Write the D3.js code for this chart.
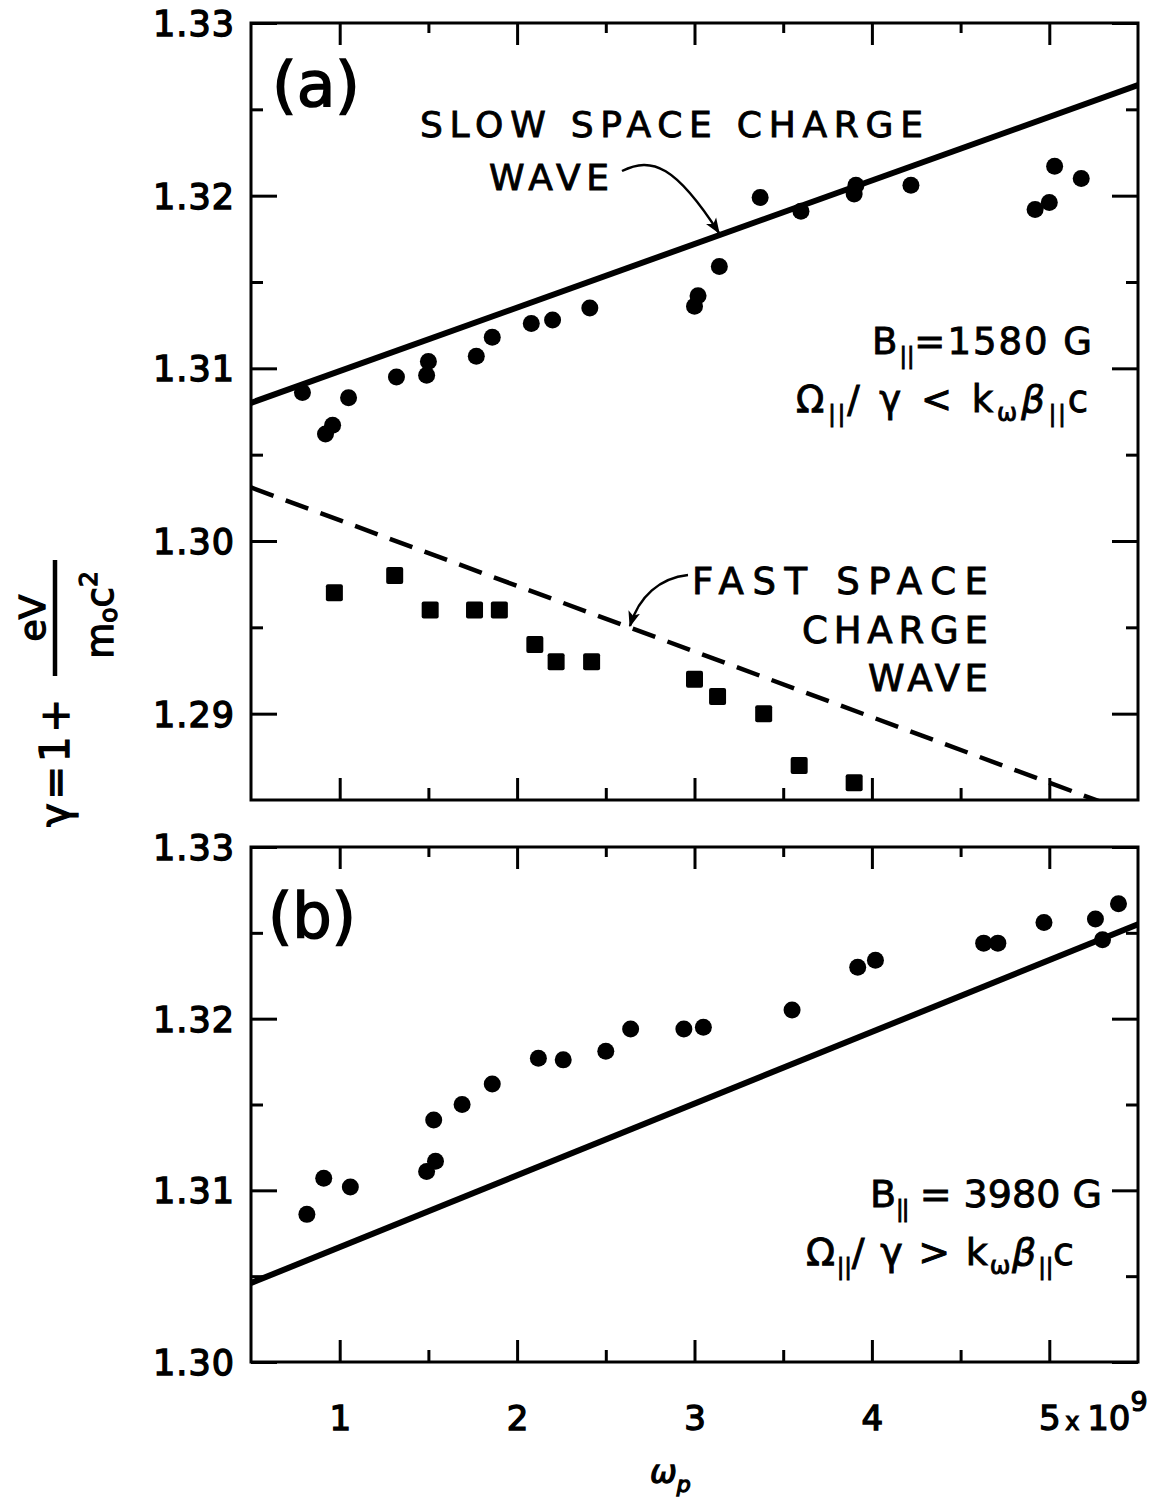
<!DOCTYPE html>
<html>
<head>
<meta charset="utf-8">
<script src="https://cdn.jsdelivr.net/npm/d3@7"></script>
<style>
  body { margin: 0; background: #fff; }
  text { font-family: "DejaVu Sans", sans-serif; fill: #000; }
</style>
</head>
<body>
<svg id="chart" width="1155" height="1499"></svg>
<script>
// panel (a): slow space charge wave, measured points (circles)
var slowX = [0.79, 0.92, 0.96, 1.05, 1.32, 1.49, 1.50, 1.77, 1.86, 2.08, 2.20, 2.41,
             3.00, 3.02, 3.14, 3.37, 3.60, 3.90, 3.91, 4.22, 4.92, 5.00, 5.03, 5.18];
var slowY = [1.3086, 1.3062, 1.3067, 1.3083, 1.3095, 1.3096, 1.3104, 1.3107, 1.3118, 1.3126, 1.3128, 1.3135,
             1.3136, 1.3142, 1.3159, 1.3199, 1.3191, 1.3201, 1.3206, 1.3206, 1.3192, 1.3196, 1.3217, 1.3210];

// panel (a): fast space charge wave, measured points (squares)
var fastX = [0.97, 1.31, 1.51, 1.76, 1.90, 2.10, 2.22, 2.42, 3.00, 3.13, 3.39, 3.59, 3.90];
var fastY = [1.297, 1.298, 1.296, 1.296, 1.296, 1.294, 1.293, 1.293, 1.292, 1.291, 1.290, 1.287, 1.286];

// panel (a): theory lines (end points)
var slowLineX = [0.5, 5.5];
var slowLineY = [1.3080, 1.3264];
var fastLineX = [0.5, 5.5];
var fastLineY = [1.3031, 1.2841];

// panel (b): measured points
var bX = [0.815, 0.91, 1.06, 1.49, 1.54, 1.53, 1.69, 1.86, 2.12, 2.26, 2.50, 2.64,
          2.94, 3.05, 3.55, 3.92, 4.02, 4.63, 4.71, 4.97, 5.26, 5.30, 5.39];
var bY = [1.3086, 1.3107, 1.3102, 1.3111, 1.3117, 1.3141, 1.3150, 1.3162, 1.3177, 1.3176, 1.3181, 1.3194,
          1.3194, 1.3195, 1.3205, 1.3230, 1.3234, 1.3244, 1.3244, 1.3256, 1.3258, 1.3246, 1.3267];

// panel (b): theory line
var bLineX = [0.5, 5.5];
var bLineY = [1.3046, 1.3255];

// ticks
var xLabelTicks = [1, 2, 3, 4, 5];
var xMajor = [1, 2, 3, 4, 5];
var xMinor = [1.5, 2.5, 3.5, 4.5];
var yTicksA = [1.29, 1.30, 1.31, 1.32, 1.33];
var yMinorA = [1.295, 1.305, 1.315, 1.325];
var yTicksB = [1.30, 1.31, 1.32, 1.33];
var yMinorB = [1.305, 1.315, 1.325];

var svg = d3.select('#chart');

var x = d3.scaleLinear().domain([0.5, 5.5]).range([251, 1138]);
var yA = d3.scaleLinear().domain([1.285, 1.33]).range([800, 23]);
var yB = d3.scaleLinear().domain([1.30, 1.33]).range([1362, 847]);

var defs = svg.append('defs');
defs.append('marker').attr('id', 'arrow')
    .attr('viewBox', '0 0 12 10').attr('refX', 11).attr('refY', 5)
    .attr('markerWidth', 16).attr('markerHeight', 14)
    .attr('markerUnits', 'userSpaceOnUse').attr('orient', 'auto')
  .append('path').attr('d', 'M0,0.5 L12,5 L0,9.5 L3,5 z').attr('fill', '#000');

function cleanAxis(g) {
    g.select('.domain').remove();
    g.selectAll('.tick line').attr('stroke', '#000').attr('stroke-width', 3);
}

// lettering helper: DejaVu with a thin outline to get the heavy pen look
function letter(sel, size, w) {
    return sel.attr('font-size', size).attr('stroke', '#000').attr('stroke-width', w || 0.9);
}

function drawFrame(id, y, yTicks, yMinor) {
    var g = svg.append('g').attr('id', id);
    var top = y.range()[1], bottom = y.range()[0];
    var left = x.range()[0], right = x.range()[1];

    g.append('clipPath').attr('id', 'clip-' + id)
     .append('rect').attr('x', left).attr('y', top)
     .attr('width', right - left).attr('height', bottom - top);

    // x ticks, inward on bottom and top
    g.append('g').attr('transform', 'translate(0,' + bottom + ')')
     .call(d3.axisBottom(x).tickValues(xMajor).tickSize(-22).tickFormat('')).call(cleanAxis);
    g.append('g').attr('transform', 'translate(0,' + bottom + ')')
     .call(d3.axisBottom(x).tickValues(xMinor).tickSize(-12).tickFormat('')).call(cleanAxis);
    g.append('g').attr('transform', 'translate(0,' + top + ')')
     .call(d3.axisTop(x).tickValues(xMajor).tickSize(-22).tickFormat('')).call(cleanAxis);
    g.append('g').attr('transform', 'translate(0,' + top + ')')
     .call(d3.axisTop(x).tickValues(xMinor).tickSize(-10).tickFormat('')).call(cleanAxis);

    // y ticks, inward on left and right, labels on the left
    var yl = g.append('g').attr('transform', 'translate(' + left + ',0)')
     .call(d3.axisLeft(y).tickValues(yTicks).tickSize(-26).tickPadding(16).tickFormat(d3.format('.2f')))
     .call(cleanAxis);
    yl.selectAll('.tick text')
      .attr('font-family', '"DejaVu Sans", sans-serif')
      .attr('font-size', 35).attr('letter-spacing', 1)
      .attr('stroke', '#000').attr('stroke-width', 1.4)
      .attr('dy', '0.36em');
    g.append('g').attr('transform', 'translate(' + left + ',0)')
     .call(d3.axisLeft(y).tickValues(yMinor).tickSize(-12).tickFormat('')).call(cleanAxis);
    g.append('g').attr('transform', 'translate(' + right + ',0)')
     .call(d3.axisRight(y).tickValues(yTicks).tickSize(-26).tickFormat('')).call(cleanAxis);
    g.append('g').attr('transform', 'translate(' + right + ',0)')
     .call(d3.axisRight(y).tickValues(yMinor).tickSize(-12).tickFormat('')).call(cleanAxis);

    g.append('rect').attr('x', left).attr('y', top)
     .attr('width', right - left).attr('height', bottom - top)
     .attr('fill', 'none').attr('stroke', '#000').attr('stroke-width', 3);
    return g;
}

function zip(a, b) { return a.map(function(v, i) { return [v, b[i]]; }); }

// ---------- panel (a)
var gA = drawFrame('a', yA, yTicksA, yMinorA);
var plotA = gA.append('g').attr('clip-path', 'url(#clip-a)');

var lineA = d3.line().x(function(d) { return x(d[0]); }).y(function(d) { return yA(d[1]); });

plotA.append('path').datum(zip(slowLineX, slowLineY))
     .attr('d', lineA).attr('fill', 'none').attr('stroke', '#000').attr('stroke-width', 6);
plotA.append('path').datum(zip(fastLineX, fastLineY))
     .attr('d', lineA).attr('fill', 'none').attr('stroke', '#000').attr('stroke-width', 4.5)
     .attr('stroke-dasharray', '24,13');

plotA.selectAll('circle').data(zip(slowX, slowY)).enter().append('circle')
     .attr('cx', function(d) { return x(d[0]); }).attr('cy', function(d) { return yA(d[1]); })
     .attr('r', 8.5).attr('fill', '#000');

plotA.selectAll('rect.sq').data(zip(fastX, fastY)).enter().append('rect').attr('class', 'sq')
     .attr('x', function(d) { return x(d[0]) - 8.5; }).attr('y', function(d) { return yA(d[1]) - 8.5; })
     .attr('width', 17).attr('height', 17).attr('rx', 2).attr('fill', '#000');

letter(gA.append('text').attr('x', 272).attr('y', 106), 62, 1.6)
  .attr('textLength', 88).attr('lengthAdjust', 'spacingAndGlyphs').text('(a)');

letter(gA.append('text').attr('x', 420).attr('y', 137), 36)
  .attr('textLength', 503).attr('lengthAdjust', 'spacing').text('SLOW SPACE CHARGE');
letter(gA.append('text').attr('x', 489).attr('y', 190), 36)
  .attr('textLength', 120).attr('lengthAdjust', 'spacing').text('WAVE');
gA.append('path').attr('d', 'M622,171 C652,156 676,166 719,233')
  .attr('fill', 'none').attr('stroke', '#000').attr('stroke-width', 2.5)
  .attr('marker-end', 'url(#arrow)');

letter(gA.append('text').attr('x', 988).attr('y', 594).attr('text-anchor', 'end'), 37)
  .attr('textLength', 296).attr('lengthAdjust', 'spacing').text('FAST SPACE');
letter(gA.append('text').attr('x', 988).attr('y', 643).attr('text-anchor', 'end'), 37)
  .attr('textLength', 186).attr('lengthAdjust', 'spacing').text('CHARGE');
letter(gA.append('text').attr('x', 988).attr('y', 691).attr('text-anchor', 'end'), 37)
  .attr('textLength', 120).attr('lengthAdjust', 'spacing').text('WAVE');
gA.append('path').attr('d', 'M688,575 C660,578 639,596 630,626')
  .attr('fill', 'none').attr('stroke', '#000').attr('stroke-width', 2.5)
  .attr('marker-end', 'url(#arrow)');

function condition(g, pos, size, field, rel) {
    var t1 = letter(g.append('text').attr('x', pos.bx).attr('y', pos.by), size)
      .attr('textLength', pos.bw).attr('lengthAdjust', 'spacing');
    t1.append('tspan').text('B');
    t1.append('tspan').attr('font-size', size * 0.6).attr('dy', 10).attr('letter-spacing', -2).text('||');
    t1.append('tspan').attr('dy', -10).text(field);

    var t2 = letter(g.append('text').attr('x', pos.ox).attr('y', pos.oy), size)
      .attr('textLength', pos.ow).attr('lengthAdjust', 'spacing');
    t2.append('tspan').text('\u03A9');
    t2.append('tspan').attr('font-size', size * 0.6).attr('dy', 10).attr('letter-spacing', -2).text('||');
    t2.append('tspan').attr('dy', -10).text('/ \u03B3 ' + rel + ' k');
    t2.append('tspan').attr('font-size', size * 0.65).attr('dy', 9).text('\u03C9');
    t2.append('tspan').attr('dy', -9).attr('font-style', 'italic').text('\u03B2');
    t2.append('tspan').attr('font-size', size * 0.6).attr('dy', 10).attr('letter-spacing', -2).text('||');
    t2.append('tspan').attr('dy', -10).text('c');
}

condition(gA, { bx: 872, by: 354, bw: 220, ox: 796, oy: 412, ow: 292 }, 37, '=1580 G', '<');

// ---------- panel (b)
var gB = drawFrame('b', yB, yTicksB, yMinorB);
var plotB = gB.append('g').attr('clip-path', 'url(#clip-b)');
var lineB = d3.line().x(function(d) { return x(d[0]); }).y(function(d) { return yB(d[1]); });

plotB.append('path').datum(zip(bLineX, bLineY))
     .attr('d', lineB).attr('fill', 'none').attr('stroke', '#000').attr('stroke-width', 6);
plotB.selectAll('circle').data(zip(bX, bY)).enter().append('circle')
     .attr('cx', function(d) { return x(d[0]); }).attr('cy', function(d) { return yB(d[1]); })
     .attr('r', 8.5).attr('fill', '#000');

letter(gB.append('text').attr('x', 268).attr('y', 937), 62, 1.6)
  .attr('textLength', 88).attr('lengthAdjust', 'spacingAndGlyphs').text('(b)');

condition(gB, { bx: 870, by: 1207, bw: 232, ox: 806, oy: 1265, ow: 268 }, 38, ' = 3980 G', '>');

// x tick labels under panel (b)
var xl = svg.append('g').attr('transform', 'translate(0,' + yB.range()[0] + ')')
  .call(d3.axisBottom(x).tickValues(xLabelTicks).tickSize(0).tickPadding(56).tickFormat(d3.format('d')))
  .call(cleanAxis);
xl.selectAll('.tick text')
  .attr('font-family', '"DejaVu Sans", sans-serif')
  .attr('font-size', 34).attr('stroke', '#000').attr('stroke-width', 1.4)
  .attr('dy', '0.36em');
var pow = letter(svg.append('text').attr('x', x(5) + 16).attr('y', yB.range()[0] + 68), 34, 1.2);
pow.append('tspan').attr('font-size', 24).text('x ');
pow.append('tspan').text('10');
pow.append('tspan').attr('dy', -19).attr('font-size', 27).text('9');

// x axis title
var xt = letter(svg.append('text').attr('x', 650).attr('y', 1483), 32, 1.3).attr('font-style', 'italic');
xt.append('tspan').text('\u03C9');
xt.append('tspan').attr('font-size', 22).attr('dy', 9).text('p');

// y axis title, rotated
var yt = svg.append('g').attr('transform', 'translate(55,760) rotate(-90)');
letter(yt.append('text').attr('x', -67).attr('y', 14), 40, 1.3)
  .attr('textLength', 128).attr('lengthAdjust', 'spacing').text('\u03B3 = 1 +');
yt.append('line').attr('x1', 84).attr('x2', 200).attr('y1', 0).attr('y2', 0)
  .attr('stroke', '#000').attr('stroke-width', 4.5);
letter(yt.append('text').attr('x', 142).attr('y', -10).attr('text-anchor', 'middle'), 36, 1.3).text('eV');
var den = letter(yt.append('text').attr('x', 145).attr('y', 58).attr('text-anchor', 'middle'), 37, 1.3);
den.append('tspan').text('m');
den.append('tspan').attr('font-size', 25).attr('dy', 4).text('o');
den.append('tspan').attr('dy', -4).text('c');
den.append('tspan').attr('font-size', 25).attr('dy', -16).text('2');
</script>
</body>
</html>
